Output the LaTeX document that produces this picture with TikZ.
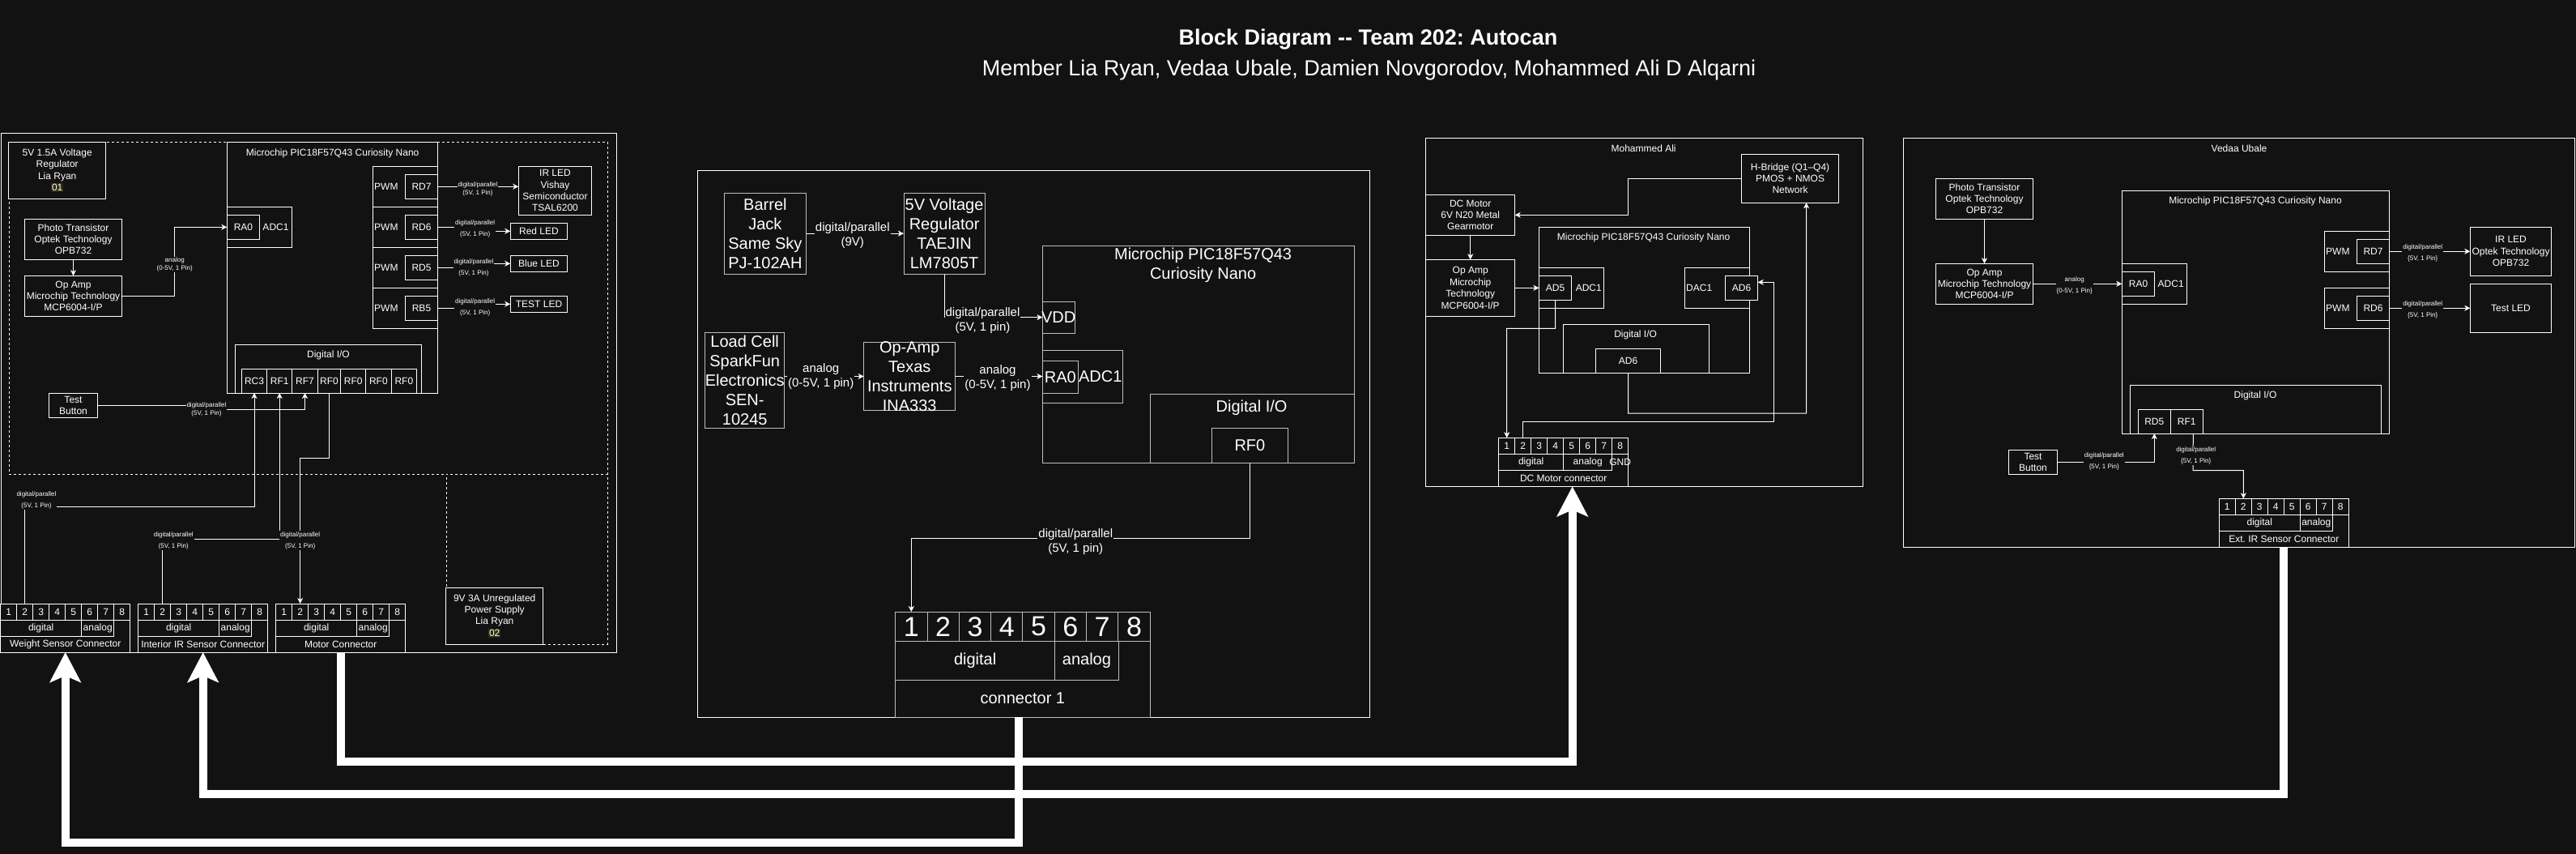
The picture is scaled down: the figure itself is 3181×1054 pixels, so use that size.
\documentclass[tikz,border=0pt]{standalone}
\usepackage{fontspec}
\setmainfont{Liberation Sans}
\usetikzlibrary{arrows.meta}
\frenchspacing
\definecolor{bg}{RGB}{18,18,18}
\definecolor{midc}{RGB}{190,190,190}
\definecolor{hlc}{RGB}{44,44,14}
\newcommand\fA{\fontsize{12}{14.4}\selectfont}
\newcommand\fS{\fontsize{8}{10}\selectfont}
\newcommand\fM{\fontsize{20}{24}\selectfont}
\newcommand\fL{\fontsize{15}{18}\selectfont}
\newcommand\fT{\fontsize{27}{32}\selectfont}
\newcommand\fD{\fontsize{34}{40}\selectfont}
\newcommand\hlx[1]{{\setlength{\fboxsep}{1pt}\colorbox{hlc}{#1}}}
\tikzset{
 box/.style={draw=white, line width=1pt, fill=bg, inner sep=0pt, outer sep=0pt},
 txt/.style={text=white, align=center, inner sep=0pt, font=\fA},
 elab/.style={fill=bg, text=white, align=center, inner sep=1pt, font=\fS},
 arr/.style={white, line width=1pt, -{Stealth[length=7pt,width=7pt,inset=2pt]}},
 bigarr/.style={white, line width=10pt, -{Stealth[length=37pt,width=38pt,inset=8pt]}},
 dsh/.style={dash pattern=on 3pt off 3pt},
}
% box: [opts]{name}{x1}{y1}{x2}{y2}{text}
\newcommand\bx[7][]{%
  \node[box,minimum width={(#5)-(#3)},minimum height={(#6)-(#4)},anchor=north west,#1] (#2) at ({#3},{#4}) {};%
  \node[txt] (#2-t) at (#2.center) {#7};}
% connector: {prefix}{x0}{y0}{digital w}{analog w}{third}{title}
\newcommand\conn[7]{%
  \bx{#1}{#2}{#3}{(#2)+160}{(#3)+60}{}%
  \foreach \i in {1,...,8}{\bx{#1-p\i}{(#2)+20*(\i-1)}{#3}{(#2)+20*\i}{(#3)+20}{\i}}%
  \bx{#1-d}{#2}{(#3)+20}{(#2)+(#4)}{(#3)+40}{digital}%
  \bx{#1-a}{(#2)+(#4)}{(#3)+20}{(#2)+(#4)+(#5)}{(#3)+40}{analog}%
  \node[txt] (#1-g) at ({(#2)+(#4)+(#5)+10},{(#3)+30}) {#6};%
  \node[txt] (#1-title) at ({(#2)+80},{(#3)+50}) {#7};%
}
\begin{document}
\begin{tikzpicture}[x=1pt,y=-1pt]
\fill[bg] (0,0) rectangle (3181,1054);
\useasboundingbox (0,0) rectangle (3181,1054);

% titles
\node[txt,font=\fT\bfseries] (title) at (1689.5,48.5) {Block Diagram -{}- Team 202: Autocan};
\node[txt,font=\fT] (subtitle) at (1690.5,86.7) {Member Lia Ryan, Vedaa Ubale, Damien Novgorodov, Mohammed Ali D Alqarni};

% ================= LEFT PANEL =================
\bx{Lpanel}{1}{165}{761}{805}{}
\bx[dsh]{Ldash1}{11}{175}{750}{585}{}
\bx[dsh]{Ldash2}{551}{585}{750}{795}{}
\bx{reg1}{10.7}{175}{130.7}{245.3}{5V 1.5A Voltage\\Regulator\\Lia Ryan\\\hlx{01}}
\bx{ps1}{550.7}{725}{670.7}{795}{9V 3A Unregulated\\Power Supply\\Lia Ryan\\\hlx{02}}
\bx{photoL}{30.3}{270.3}{150.7}{320.3}{Photo Transistor\\Optek Technology\\OPB732}
\bx{opL}{30.3}{340.3}{150.7}{390.3}{Op Amp\\Microchip Technology\\MCP6004-I/P}
\bx{btnL}{60.3}{485.3}{120.7}{515.3}{Test\\Button}
\bx{mcuL}{280.7}{175}{540.7}{485}{}
\node[txt] (mcuLtitle) at (410.7,189) {Microchip PIC18F57Q43 Curiosity Nano};
\bx{adcL}{280.3}{255.3}{360.7}{305.3}{}
\node[txt] (adcLl) at (340.5,280.3) {ADC1};
\bx{ra0L}{280.3}{265.3}{320.7}{295.3}{RA0}
\bx{pwmL1}{460.3}{205.3}{540.7}{255.3}{}
\node[txt,anchor=west] (pwmL1l) at (462,230.3) {PWM};
\bx{rd7L}{500.3}{215.3}{540.7}{245.3}{RD7}
\bx{pwmL2}{460.3}{255.3}{540.7}{305.3}{}
\node[txt,anchor=west] (pwmL2l) at (462,280.3) {PWM};
\bx{rd6L}{500.3}{265.3}{540.7}{295.3}{RD6}
\bx{pwmL3}{460.3}{305.3}{540.7}{355.3}{}
\node[txt,anchor=west] (pwmL3l) at (462,330.3) {PWM};
\bx{rd5L}{500.3}{315.3}{540.7}{345.3}{RD5}
\bx{pwmL4}{460.3}{355.3}{540.7}{405.3}{}
\node[txt,anchor=west] (pwmL4l) at (462,380.3) {PWM};
\bx{rb5L}{500.3}{365.3}{540.7}{395.3}{RB5}
\bx{irL}{640.3}{205.3}{730.7}{265.3}{IR LED\\Vishay\\Semiconductor\\TSAL6200}
\bx{redL}{630.3}{275.3}{700.7}{295.3}{Red LED}
\bx{blueL}{630.3}{315.3}{700.7}{335.3}{Blue LED}
\bx{testL}{630.3}{365.3}{700.7}{385.3}{TEST LED}
\bx{dioL}{290.3}{425.3}{520.7}{485}{}
\node[txt] (dioLl) at (405.5,438.3) {Digital I/O};
\bx{rc3}{298.3}{455.3}{329.7}{485}{RC3}
\bx{rf1}{329.7}{455.3}{360.7}{485}{RF1}
\bx{rf7}{360.7}{455.3}{392.3}{485}{RF7}
\bx{rf0a}{392.3}{455.3}{420.7}{485}{RF0}
\bx{rf0b}{420.7}{455.3}{451.7}{485}{RF0}
\bx{rf0c}{451.7}{455.3}{483}{485}{RF0}
\bx{rf0d}{483}{455.3}{514.7}{485}{RF0}
\conn{wsc}{0.7}{745}{100}{40}{}{Weight Sensor Connector}
\conn{iic}{170.7}{745}{100}{40}{}{Interior IR Sensor Connector}
\conn{mcn}{340.7}{745}{100}{40}{}{Motor Connector}

\draw[arr] (photoL) -- (opL);
\draw[arr] (opL.east) -- ++(65,0) |- (ra0L.west);
\node[elab] (lbL1) at (215.7,326.7) {analog\\(0-5V, 1 Pin)};
\draw[arr] (rd7L.east) -- (rd7L.east -| irL.west);
\node[elab] (lbL2) at (590,233.3) {digital/parallel\\(5V, 1 Pin)};
\draw[arr] (rd6L.east) -- (586.7,280.3) -- (586.7,285.3) -- (redL.west);
\node[elab] (lbL3) at (586.7,282.3) {digital/parallel\\[4pt](5V, 1 Pin)};
\draw[arr] (rd5L.east) -- (585,330.3) -- (585,325.3) -- (blueL.west);
\node[elab] (lbL4) at (585,330.3) {digital/parallel\\[4pt](5V, 1 Pin)};
\draw[arr] (rb5L.east) -- (586.7,380.3) -- (586.7,375.3) -- (testL.west);
\node[elab] (lbL5) at (586.7,379.3) {digital/parallel\\[4pt](5V, 1 Pin)};
\draw[arr] (btnL.east) -- (255,500.3) -- (255,505.3) -| (rf7.south);
\node[elab] (lbL6) at (255,505.3) {digital/parallel\\(5V, 1 Pin)};
\draw[arr] (wsc-p2.north) -- (30.7,625.3) -| (rc3.south);
\node[elab] (lbL7) at (45,617.5) {digital/parallel\\[4pt](5V, 1 Pin)};
\draw[arr] (iic-p2.north) -- (200.7,665.3) -| (rf1.south);
\node[elab] (lbL8) at (214.3,667.3) {digital/parallel\\[4pt](5V, 1 Pin)};
\draw[arr] (rf0a.south) -- ++(0,80) -| (mcn-p2.north);
\node[elab] (lbL9) at (370.7,667) {digital/parallel\\[4pt](5V, 1 Pin)};

% ================= MIDDLE PANEL =================
\bx{Mpanel}{861}{210}{1691}{885}{}
\begin{scope}[box/.append style={draw=midc}, txt/.append style={font=\fM}]
\bx{barrel}{894.3}{238}{995.5}{338.3}{Barrel\\Jack\\Same Sky\\PJ-102AH}
\bx{regM}{1116}{238}{1216.2}{338.3}{5V Voltage\\Regulator\\TAEJIN\\LM7805T}
\bx{mcuM}{1287.4}{303.7}{1672.5}{571.7}{}
\node[txt] (mcuMtitle) at (1485.6,327.2) {Microchip PIC18F57Q43\\Curiosity Nano};
\bx{vdd}{1287.4}{372}{1327}{411.3}{VDD}
\bx{adcM}{1287.4}{432.3}{1386}{497.7}{}
\node[txt] (adcMl) at (1358.7,465) {ADC1};
\bx{ra0M}{1287.4}{445.7}{1331.3}{485.3}{RA0}
\bx{dioM}{1420.3}{486.3}{1672.5}{571.7}{}
\node[txt] (dioMl) at (1545.6,503.3) {Digital I/O};
\bx{rf0M}{1496.8}{528.3}{1590}{571.7}{RF0}
\bx{load}{870.7}{410}{968.7}{528.3}{Load Cell\\SparkFun\\Electronics\\SEN-\\10245}
\bx{opM}{1066.7}{422.7}{1179.8}{506.3}{Op-Amp\\Texas\\Instruments\\INA333}
\bx{c1}{1105.7}{755}{1420}{885}{}
\foreach \i in {1,...,8}{\bx{c1p\i}{1105.7+39.3*(\i-1)}{755}{1105.7+39.3*\i}{791.7}{\fD\i}}
\bx{c1d}{1105.7}{791.7}{1302.6}{839}{digital}
\bx{c1a}{1302.6}{791.7}{1381.3}{839}{analog}
\node[txt] (c1title) at (1262.85,862) {connector 1};
\end{scope}
\draw[arr] (barrel.east) -- (regM.west);
\node[elab,font=\fL] (lbM1) at (1052.8,290.8) {digital/parallel\\(9V)};
\draw[arr] (regM.south) |- (vdd.west);
\node[elab,font=\fL] (lbM2) at (1213.5,395.5) {digital/parallel\\(5V, 1 pin)};
\draw[arr] (load.east |- opM.west) -- (opM.west);
\node[elab,font=\fL] (lbM3) at (1013.7,465) {analog\\(0-5V, 1 pin)};
\draw[arr] (opM.east) -- (opM.east -| ra0M.west);
\node[elab,font=\fL] (lbM4) at (1232,466.7) {analog\\(0-5V, 1 pin)};
\draw[arr] (rf0M.south) -- ++(0,92.3) -| (c1p1.north);
\node[elab,font=\fL] (lbM5) at (1328.3,668.2) {digital/parallel\\(5V, 1 pin)};

% ================= MOHAMMED ALI PANEL =================
\bx{Apanel}{1760.7}{170.7}{2300.7}{600}{}
\node[txt] (Atitle) at (2029.6,183.7) {Mohammed Ali};
\bx{hb}{2150.4}{190.3}{2270.7}{250.3}{H-Bridge (Q1–Q4)\\PMOS + NMOS\\Network}
\bx{dcm}{1760.7}{240.3}{1870.7}{290.3}{DC Motor\\6V N20 Metal\\Gearmotor}
\bx{opA}{1760.7}{320.3}{1870.7}{390.3}{Op Amp\\Microchip\\Technology\\MCP6004-I/P}
\bx{mcuA}{1900.4}{280.3}{2160.7}{460.3}{}
\node[txt] (mcuAtitle) at (2029.6,293.7) {Microchip PIC18F57Q43 Curiosity Nano};
\bx{adcA}{1900.4}{330.3}{1980.7}{380.3}{}
\node[txt] (adcAl) at (1961.8,355.3) {ADC1};
\bx{ad5}{1900.4}{340.3}{1940.7}{370.3}{AD5}
\bx{dacA}{2080.4}{330.3}{2160.7}{380.3}{}
\node[txt,anchor=west] (dacAl) at (2082,355.3) {DAC1};
\bx{ad6a}{2130.4}{340.3}{2170.7}{370.3}{AD6}
\bx{dioA}{1930.4}{400.3}{2110.7}{460.3}{}
\node[txt] (dioAl) at (2019.6,413.7) {Digital I/O};
\bx{ad6b}{1970.4}{430.3}{2050.7}{460.3}{AD6}
\conn{dmc}{1850.7}{540.3}{80}{60}{GND}{DC Motor connector}
\draw[arr] (hb.west) -- (2010.7,220.3) |- (dcm.east);
\draw[arr] (dcm) -- (opA);
\draw[arr] (opA.east) -- (ad5.west);
\draw[arr] (ad5.south) -- (1920.55,405.3) -| (dmc-p1.north);
\draw[arr] (ad6b.south) -- (2010.55,510) -| ([xshift=20pt]hb.south);
\draw[arr] (dmc-p2.north) |- (2190.4,520.3) |- ([yshift=7pt]ad6a.east);

% ================= VEDAA PANEL =================
\bx{Vpanel}{2350.3}{170.7}{3179}{675}{}
\node[txt] (Vtitle) at (2765,183.7) {Vedaa Ubale};
\bx{photoV}{2390.3}{220.3}{2510.7}{270.3}{Photo Transistor\\Optek Technology\\OPB732}
\bx{opV}{2390.3}{325.3}{2510.7}{375.3}{Op Amp\\Microchip Technology\\MCP6004-I/P}
\bx{mcuV}{2620.3}{235.3}{2950.7}{535}{}
\node[txt] (mcuVtitle) at (2785,248.7) {Microchip PIC18F57Q43 Curiosity Nano};
\bx{adcV}{2620.3}{325.3}{2700.7}{375.3}{}
\node[txt] (adcVl) at (2680.7,350.3) {ADC1};
\bx{ra0V}{2620.3}{335.3}{2660.7}{365.3}{RA0}
\bx{pwm7}{2870.3}{285.3}{2950.7}{335.3}{}
\node[txt,anchor=west] (pwm7l) at (2872,310.3) {PWM};
\bx{rd7V}{2910.3}{295.3}{2950.7}{325.3}{RD7}
\bx{pwm6}{2870.3}{355.3}{2950.7}{405.3}{}
\node[txt,anchor=west] (pwm6l) at (2872,380.3) {PWM};
\bx{rd6V}{2910.3}{365.3}{2950.7}{395.3}{RD6}
\bx{irV}{3050.3}{280.3}{3150.7}{340.3}{IR LED\\Optek Technology\\OPB732}
\bx{testV}{3050.3}{350.3}{3150.7}{410.3}{Test LED}
\bx{dioV}{2630.3}{475.3}{2940.3}{535}{}
\node[txt] (dioVl) at (2785,488.7) {Digital I/O};
\bx{rd5V}{2640.3}{505.3}{2680.3}{535}{RD5}
\bx{rf1V}{2680.3}{505.3}{2720.3}{535}{RF1}
\bx{btnV}{2480.3}{555.3}{2540.7}{585.3}{Test\\Button}
\conn{eic}{2740.3}{615.3}{100}{40}{}{Ext. IR Sensor Connector}
\draw[arr] (photoV) -- (opV);
\draw[arr] (opV.east) -- (ra0V.west);
\node[elab] (lbV1) at (2561.7,352.3) {analog\\[4pt]\{0-5V, 1 Pin\}};
\draw[arr] (rd7V.east) -- (irV.west);
\node[elab] (lbV2) at (2991.7,312) {digital/parallel\\[4pt]\{5V, 1 Pin\}};
\draw[arr] (rd6V.east) -- (testV.west);
\node[elab] (lbV3) at (2991.7,382) {digital/parallel\\[4pt]\{5V, 1 Pin\}};
\draw[arr] (btnV.east) -| (rd5V.south);
\node[elab] (lbV4) at (2598.3,569.3) {digital/parallel\\[4pt]\{5V, 1 Pin\}};
\draw[arr] ([xshift=8pt]rf1V.south) -- (2708,580.7) -| (eic-p2.north);
\node[elab] (lbV5) at (2711.7,562.3) {digital/parallel\\[4pt]\{5V, 1 Pin\}};

% ================= THICK LINKS =================
\draw[bigarr] (mcn.south) -- ++(0,135) -| ([xshift=11pt]dmc.south);
\draw[bigarr] (eic.south) -- ++(0,305) -| (iic.south);
\draw[bigarr] ([xshift=-5pt]c1.south) -- ++(0,155) -| (wsc.south);
\end{tikzpicture}
\end{document}
